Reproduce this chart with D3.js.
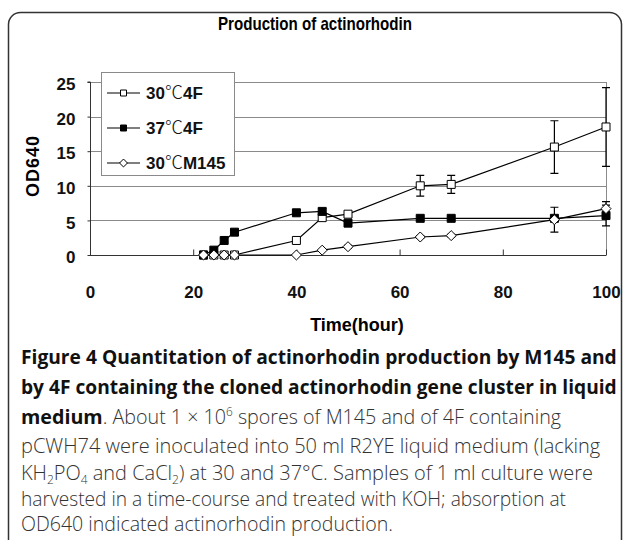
<!DOCTYPE html>
<html><head><meta charset="utf-8">
<script src="https://cdn.jsdelivr.net/npm/d3@7"></script>
<style>body{margin:0;background:#fff}svg{display:block}</style>
</head><body>
<svg id="c" width="629" height="540"></svg>
<script>
const chartTitle = "Production of actinorhodin";
const xLabel = "Time(hour)";
const yLabel = "OD640";
const times = [22, 24, 26, 28, 40, 45, 50, 64, 70, 90, 100];
const seriesNames = [["30", "\u2103", "4F"], ["37", "\u2103", "4F"], ["30", "\u2103", "M145"]];
const s30_4F = [0, 0, 0, 0, 2.1, 5.4, 5.9, 10.0, 10.2, 15.6, 18.5];
const e30_4F = [0, 0, 0, 0, 0.2, 0.3, 0.3, 1.5, 1.3, 3.8, 5.7];
const s37_4F = [0, 0.7, 2.1, 3.3, 6.1, 6.3, 4.6, 5.3, 5.3, 5.3, 5.7];
const e37_4F = [0, 0, 0.3, 0.3, 0.3, 0.4, 0.4, 0.3, 0.3, 0.3, 1.5];
const s30_M145 = [0, 0, 0, 0, 0, 0.7, 1.2, 2.6, 2.8, 5.1, 6.7];
const e30_M145 = [0, 0, 0, 0, 0, 0, 0.2, 0.2, 0.2, 1.8, 1.0];
const xTicks = [0, 20, 40, 60, 80, 100];
const yTicks = [0, 5, 10, 15, 20, 25];

const svg = d3.select("#c");
svg.append("rect").attr("x", 8.5).attr("y", 12.5).attr("width", 613).attr("height", 540)
  .attr("rx", 12).attr("fill", "none").attr("stroke", "#333").attr("stroke-width", 1.5);

const L = 90, R = 606, T = 82, B = 255;
const x = d3.scaleLinear().domain([0, 100]).range([L, R]);
const y = d3.scaleLinear().domain([0, 25]).range([B, T]);
const bold = "'Liberation Sans', Arial, sans-serif";

svg.append("text").attr("x", 315).attr("y", 30).attr("text-anchor", "middle")
  .attr("font-family", bold).attr("font-weight", "bold").attr("font-size", 19)
  .attr("textLength", 194).attr("lengthAdjust", "spacingAndGlyphs").text(chartTitle);

svg.append("g").selectAll("line").data(yTicks.filter(d => d > 0)).join("line")
  .attr("x1", L).attr("x2", R).attr("y1", d => Math.round(y(d)) + 0.5).attr("y2", d => Math.round(y(d)) + 0.5)
  .attr("stroke", "#8a8a8a").attr("stroke-width", 1);
svg.append("line").attr("x1", R + 0.5).attr("x2", R + 0.5).attr("y1", T).attr("y2", B)
  .attr("stroke", "#8a8a8a");

const yAxis = svg.append("g").attr("transform", `translate(${L + 0.5},0)`)
  .call(d3.axisLeft(y).tickValues(yTicks).tickSize(3).tickPadding(12));
yAxis.select(".domain").attr("stroke", "#333").attr("d", `M-3,${y(25)}H0V${y(0)}`);
yAxis.selectAll(".tick line").attr("stroke", "#333");
yAxis.selectAll("text").attr("font-family", bold).attr("font-weight", "bold").attr("font-size", 17)
  .attr("fill", "#111").attr("dy", "0.45em");

const xAxis = svg.append("g").attr("transform", `translate(0,${B + 0.5})`)
  .call(d3.axisBottom(x).tickValues(xTicks).tickSize(-6).tickPadding(30));
xAxis.select(".domain").attr("stroke", "#333").attr("d", `M${L},0H${R}`);
xAxis.selectAll(".tick line").attr("stroke", "#333");
xAxis.selectAll("text").attr("font-family", bold).attr("font-weight", "bold").attr("font-size", 17)
  .attr("fill", "#111");

svg.append("text").attr("x", 357).attr("y", 331).attr("text-anchor", "middle")
  .attr("font-family", bold).attr("font-weight", "bold").attr("font-size", 18).text(xLabel);
svg.append("text").attr("transform", "translate(39,166) rotate(-90)").attr("text-anchor", "middle")
  .attr("font-family", bold).attr("font-weight", "bold").attr("font-size", 18).attr("letter-spacing", 1).text(yLabel);

const series = [
  {vals: s30_4F, err: e30_4F, shape: "square", fill: "#fff"},
  {vals: s37_4F, err: e37_4F, shape: "square", fill: "#000"},
  {vals: s30_M145, err: e30_M145, shape: "diamond", fill: "#fff"}
];
const line = d3.line().x(d => x(d[0])).y(d => y(d[1]));
const sq = d3.symbol().type(d3.symbolSquare).size(64)();
const dia = d3.symbol().type(d3.symbolDiamond2).size(64)();
series.forEach(s => {
  const pts = times.map((t, i) => [t, s.vals[i], s.err[i]]);
  svg.append("path").attr("d", line(pts)).attr("fill", "none").attr("stroke", "#000").attr("stroke-width", 1.2);
  const eb = svg.append("g");
  pts.filter(p => p[2] > 0).forEach(p => {
    const cx = x(p[0]);
    eb.append("path").attr("d", `M${cx},${y(p[1] - p[2])}V${y(p[1] + p[2])}M${cx - 4},${y(p[1] - p[2])}h8M${cx - 4},${y(p[1] + p[2])}h8`)
      .attr("stroke", "#000").attr("stroke-width", 1.2).attr("fill", "none");
  });
});
series.forEach(s => {
  svg.append("g").selectAll("path").data(times.map((t, i) => [t, s.vals[i]])).join("path")
    .attr("transform", d => `translate(${x(d[0])},${y(d[1])})`)
    .attr("d", s.shape === "square" ? sq : dia)
    .attr("fill", s.fill).attr("stroke", "#000").attr("stroke-width", 1);
});

const lg = svg.append("g");
lg.append("rect").attr("x", 101.5).attr("y", 72.5).attr("width", 133).attr("height", 103)
  .attr("fill", "#fff").attr("stroke", "#8a8a8a");
series.forEach((s, i) => {
  const yy = 93 + i * 35;
  lg.append("line").attr("x1", 107).attr("x2", 140).attr("y1", yy).attr("y2", yy).attr("stroke", "#000").attr("stroke-width", 1.2);
  lg.append("path").attr("transform", `translate(123.5,${yy})`)
    .attr("d", s.shape === "square" ? d3.symbol().type(d3.symbolSquare).size(36)() : d3.symbol().type(d3.symbolDiamond2).size(40)())
    .attr("fill", s.fill).attr("stroke", "#000");
  const t = lg.append("text").attr("x", 146).attr("y", yy + 6).attr("font-family", bold).attr("font-weight", "bold")
    .attr("font-size", 17).attr("fill", "#111");
  t.append("tspan").text(seriesNames[i][0]);
  t.append("tspan").attr("font-family", "'Noto Sans CJK SC', sans-serif").attr("font-weight", 300)
    .attr("font-size", 18).text(seriesNames[i][1]);
  t.append("tspan").text(seriesNames[i][2]);
});

const capLines = [
  {y: 364, w: 596, parts: [["Figure 4 Quantitation of actinorhodin production by M145 and", "b"]]},
  {y: 394, w: 596, parts: [["by 4F containing the cloned actinorhodin gene cluster in liquid", "b"]]},
  {y: 424, w: 540, parts: [["medium", "b"], [". About 1 \u00d7 10", "n"], ["6", "sup"], [" spores of M145 and of 4F containing", "n"]]},
  {y: 453, w: 590, parts: [["pCWH74 were inoculated into 50 ml R2YE liquid medium (lacking", "n"]]},
  {y: 480, w: 572, parts: [["KH", "n"], ["2", "sub"], ["PO", "n"], ["4", "sub"], [" and CaCl", "n"], ["2", "sub"], [") at 30 and 37\u00b0C. Samples of 1 ml culture were", "n"]]},
  {y: 506, w: 545, parts: [["harvested in a time-course and treated with KOH; absorption at", "n"]]},
  {y: 531, w: 372, parts: [["OD640 indicated actinorhodin production.", "n"]]}
];
capLines.forEach((l, i) => {
  const fs = i < 2 ? 21 : 20;
  const t = svg.append("text").attr("x", 21).attr("y", l.y).attr("font-family", "'Open Sans', sans-serif")
    .attr("font-size", fs).attr("fill", "#333");
  let prevShift = 0;
  l.parts.forEach(p => {
    const ts = t.append("tspan").text(p[0]);
    let shift = 0;
    if (p[1] === "b") ts.attr("font-weight", "bold").attr("fill", "#111");
    else ts.attr("font-weight", 300);
    if (p[1] === "sup") { ts.attr("font-size", "0.6em"); shift = -8; }
    if (p[1] === "sub") { ts.attr("font-size", "0.6em"); shift = 4; }
    if (shift - prevShift !== 0) ts.attr("dy", shift - prevShift);
    prevShift = shift;
  });
  const natural = t.node().getComputedTextLength();
  if (i < 2) {
    if (natural > l.w) t.attr("font-size", fs * l.w / natural);
  } else if (natural > l.w) {
    t.attr("textLength", l.w).attr("lengthAdjust", "spacingAndGlyphs");
  }
});
</script>
</body></html>
